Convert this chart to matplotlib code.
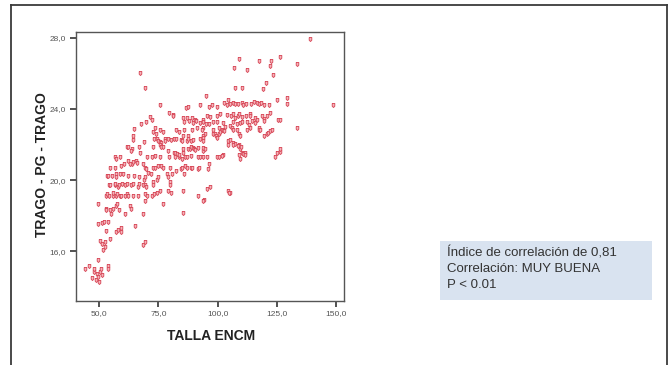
import matplotlib
matplotlib.use("Agg")
import matplotlib.pyplot as plt
from matplotlib.lines import Line2D
from matplotlib.patches import Rectangle
from matplotlib.ticker import FuncFormatter

plt.rcParams['font.family'] = ['Liberation Sans', 'DejaVu Sans']

# Talla (cm) and trago-PG-trago distance, one pair per subject
talla = [
    67.3, 69.5, 139.1, 109.2, 107.1, 112.3, 117.3, 122.4, 122.2, 126.3, 133.5, 123.3, 120.3, 119.1, 107.4, 110.3,
    148.9, 125.0, 129.2, 129.2, 95.3, 104.6,
    75.5, 86.5, 87.6, 92.5, 96.4, 97.5, 99.7, 102.8, 103.9, 105.3, 106.7, 107.4, 108.8, 110.3, 110.9, 112.2,
    114.2, 115.2, 116.6, 117.5, 119.4, 121.9, 118.5,
    79.5, 81.3, 71.5, 72.1, 85.6, 87.2, 89.1, 90.5, 94.0, 95.5, 96.7, 99.7, 101.1, 103.9, 105.7, 106.7, 107.4,
    108.5, 109.2, 110.3, 111.9, 113.5, 113.8, 115.9, 116.6, 118.7, 119.4, 120.8, 122.2, 125.7, 126.4, 81.1,
    67.7, 69.9, 64.5, 86.0, 88.1, 89.6, 90.9, 92.7, 93.8, 95.2, 96.2, 98.2, 99.7, 102.5, 103.2, 105.3, 106.7,
    108.1, 109.5, 110.3, 112.3, 113.4, 114.4, 115.9, 117.3, 119.4, 133.5, 94.0, 73.6, 91.2, 100.4,
    64.2, 72.8, 74.1, 75.5, 77.1, 82.5, 83.9, 86.0, 85.6, 87.7, 89.1, 93.3, 94.7, 94.0, 98.0, 98.2, 99.0, 99.4,
    100.4, 101.1, 101.8, 102.5, 102.8, 106.0, 106.7, 108.1, 109.2, 109.5, 112.3, 113.8, 117.3, 118.0, 119.4,
    120.8, 121.5, 122.2, 123.0,
    64.1, 69.1, 73.3, 74.3, 74.8, 75.8, 76.2, 77.6, 77.9, 79.0, 80.4, 81.4, 82.5, 84.6, 84.9, 87.0, 87.4, 88.8,
    89.6, 92.7, 94.0, 94.0, 104.6, 105.3, 106.7, 107.4, 109.2, 99.7,
    61.7, 63.8, 62.1, 63.5, 67.0, 67.3, 72.7, 75.5, 76.2, 76.9, 79.0, 81.4, 82.1, 82.8, 85.3, 85.6, 87.4, 88.4,
    88.8, 89.6, 90.2, 90.5, 91.9, 93.8, 94.0, 94.7, 102.5, 104.6, 106.7, 108.8, 109.5, 109.8, 110.3, 110.9,
    111.6, 111.6, 126.4, 126.4, 125.0,
    56.8, 57.2, 58.9, 62.1, 63.8, 64.2, 65.6, 65.9, 68.4, 70.1, 72.2, 73.6, 75.5, 79.3, 82.1, 83.5, 83.9, 84.9,
    86.3, 87.0, 88.8, 91.9, 92.7, 94.0, 95.5, 96.2, 99.7, 100.4, 101.8, 109.2, 109.5, 124.3, 60.6, 62.8,
    54.6, 56.8, 59.1, 69.4, 69.9, 72.7, 73.6, 75.0, 76.2, 77.1, 79.7, 82.5, 84.6, 84.9, 86.3, 87.0, 88.8, 89.1,
    91.6, 92.3, 95.9, 70.8,
    53.2, 53.6, 55.3, 57.2, 57.2, 58.9, 60.0, 62.1, 64.9, 67.0, 69.1, 69.4, 72.0, 74.3, 74.8, 78.6, 79.0, 80.7,
    85.9, 72.9, 79.7,
    54.3, 54.6, 56.5, 56.8, 57.9, 58.2, 59.6, 60.7, 61.7, 63.5, 64.2, 66.4, 66.6, 68.4, 69.4, 69.9, 72.7, 75.5,
    79.0, 79.7, 85.6, 95.5, 96.6, 104.6,
    53.0, 53.2, 54.3, 55.8, 56.0, 57.2, 57.4, 58.9, 59.3, 61.0, 61.7, 62.1, 64.2, 66.4, 69.5, 70.1, 72.2, 73.1,
    74.3, 80.4, 91.6, 94.2, 105.3, 104.7, 69.4,
    49.7, 52.7, 53.0, 54.4, 55.1, 55.8, 56.9, 57.4, 58.3, 61.1, 62.8, 63.5, 68.4, 77.1, 85.3, 94.0,
    49.7, 51.3, 52.2, 53.6, 53.0, 57.2, 57.9, 59.3, 59.3, 65.3,
    50.4, 51.1, 52.5, 54.7, 51.6, 52.5, 68.4, 69.4,
    49.4, 43.8, 45.6, 47.6, 49.0, 50.4, 46.9, 48.7, 49.7, 53.6, 53.6, 50.8, 51.1, 48.0, 49.8,
]
trago = [
    26.0, 25.2, 27.9, 26.8, 26.3, 26.2, 26.7, 26.7, 26.4, 26.9, 26.5, 25.9, 25.45, 25.1, 25.2, 25.2,
    24.2, 24.5, 24.6, 24.25, 24.7, 24.5,
    24.2, 24.05, 24.1, 24.2, 24.1, 24.2, 24.1, 24.35, 24.2, 24.3, 24.35, 24.3, 24.3, 24.35, 24.2, 24.3,
    24.3, 24.4, 24.35, 24.3, 24.2, 24.2, 24.35,
    23.75, 23.65, 23.55, 23.35, 23.5, 23.5, 23.5, 23.4, 23.35, 23.6, 23.55, 23.6, 23.7, 23.65, 23.6, 23.7, 23.5,
    23.6, 23.7, 23.55, 23.6, 23.7, 23.6, 23.5, 23.35, 23.6, 23.45, 23.6, 23.75, 23.35, 23.4, 23.6,
    23.15, 23.25, 22.85, 23.25, 23.3, 23.2, 23.3, 23.2, 23.25, 23.15, 23.15, 23.25, 23.25, 23.2, 23.0, 23.05, 23.25,
    23.15, 23.2, 23.25, 23.25, 23.1, 23.3, 23.2, 22.95, 23.3, 22.95, 22.95, 22.9, 22.9, 22.9,
    22.5, 22.7, 22.6, 22.8, 22.7, 22.8, 22.7, 22.8, 22.5, 22.5, 22.8, 22.8, 22.6, 22.5, 22.6, 22.8, 22.6, 22.45,
    22.6, 22.7, 22.8, 22.8, 22.75, 22.9, 22.8, 22.8, 22.6, 22.45, 22.8, 22.9, 22.8, 22.8, 22.5,
    22.6, 22.65, 22.75, 22.8,
    22.25, 22.15, 22.3, 22.3, 22.2, 22.15, 22.1, 22.3, 22.2, 22.3, 22.25, 22.3, 22.3, 22.25, 22.2, 22.2, 22.3, 22.2,
    22.25, 22.3, 22.35, 22.2, 22.2, 22.25, 22.1, 22.05, 22.0, 22.35,
    21.85, 21.75, 21.85, 21.65, 21.85, 21.55, 21.85, 22.0, 21.85, 21.85, 21.65, 21.55, 21.5, 21.45, 21.5, 21.75, 21.75, 21.75,
    21.85, 21.8, 21.75, 21.7, 21.8, 21.65, 21.8, 21.75, 21.4, 21.95, 22.0, 21.9, 21.75, 21.85, 21.55, 21.45,
    21.5, 21.4, 21.6, 21.75, 21.5,
    21.3, 21.2, 21.3, 21.1, 20.9, 21.0, 21.1, 20.95, 20.9, 21.3, 21.3, 21.35, 21.3, 21.3, 21.3, 21.3, 21.4, 21.2,
    21.3, 21.3, 21.35, 21.3, 21.3, 21.3, 21.3, 20.9, 21.3, 21.3, 21.35, 21.4, 21.2, 21.3, 20.9, 20.9,
    20.7, 20.7, 20.8, 20.7, 20.6, 20.7, 20.7, 20.8, 20.8, 20.7, 20.7, 20.5, 20.6, 20.7, 20.8, 20.7, 20.7, 20.7,
    20.6, 20.7, 20.6, 20.4,
    20.25, 20.25, 20.25, 20.35, 20.15, 20.35, 20.35, 20.25, 20.25, 20.15, 20.0, 20.15, 20.35, 20.0, 20.15, 20.35, 20.15, 20.35,
    20.35, 19.9, 19.9,
    19.7, 19.7, 19.7, 19.8, 19.6, 19.7, 19.8, 19.7, 19.8, 19.7, 19.8, 19.6, 19.8, 19.75, 19.7, 19.6, 19.7, 19.4,
    19.4, 19.7, 19.4, 19.5, 19.6, 19.4,
    19.1, 19.2, 19.1, 19.1, 19.25, 19.1, 19.2, 19.1, 19.1, 19.1, 19.2, 19.1, 19.1, 19.1, 19.2, 19.1, 19.1, 19.2,
    19.3, 19.3, 19.1, 18.9, 19.25, 19.3, 18.85,
    18.65, 18.4, 18.3, 18.3, 18.1, 18.4, 18.55, 18.65, 18.3, 18.1, 18.55, 18.4, 18.1, 18.65, 18.15, 18.85,
    17.55, 17.6, 17.65, 17.65, 17.15, 17.1, 17.2, 17.3, 17.1, 17.45,
    16.6, 16.4, 16.5, 16.7, 16.05, 16.25, 16.35, 16.5,
    15.5, 15.0, 15.2, 14.85, 14.75, 14.85, 14.5, 14.4, 14.55, 15.2, 15.0, 15.0, 14.7, 15.0, 14.3,
]

x_ticks = [50.0, 75.0, 100.0, 125.0, 150.0]
y_ticks = [16.0, 20.0, 24.0, 28.0]
stats_lines = ["Índice de correlación de 0,81", "Correlación: MUY BUENA", "P < 0.01"]

fig = plt.figure(figsize=(6.7, 3.65), dpi=100)
fig.patch.set_facecolor('white')

# outer frame (left, top, right edges)
W, H = 670.0, 365.0
frame_kw = dict(color='#3a3a3a', linewidth=1.3, transform=fig.transFigure)
fig.add_artist(Line2D([10.5 / W, 10.5 / W], [0, 1 - 4.5 / H], **frame_kw))
fig.add_artist(Line2D([10.5 / W, 666.5 / W], [1 - 4.5 / H, 1 - 4.5 / H], **frame_kw))
fig.add_artist(Line2D([666.5 / W, 666.5 / W], [0, 1 - 4.5 / H], **frame_kw))

# small cup-shaped glyph used for every point
cup = [(-0.35, 0.55), (-0.35, -0.2), (0.0, -0.55), (0.35, -0.2), (0.35, 0.55), (-0.35, 0.55)]

ax = fig.add_axes([76 / W, 1 - 300.7 / H, 268 / W, 268.4 / H])
ax.scatter(talla, trago, s=8.5, marker=cup,
           facecolor='#f6b4ba', edgecolor='#d84a5a', linewidths=0.65, zorder=3)

ax.set_xlim(40.2, 153.4)
ax.set_ylim(13.23, 28.3)
ax.set_xticks(x_ticks)
ax.set_yticks(y_ticks)
fmt = FuncFormatter(lambda v, p: f"{v:.1f}".replace('.', ','))
ax.xaxis.set_major_formatter(fmt)
ax.yaxis.set_major_formatter(fmt)
ax.tick_params(direction='out', length=4, width=1.2, color='#333333',
               labelsize=6, labelcolor='#555555', pad=3)
for s in ax.spines.values():
    s.set_color('#555555')
    s.set_linewidth(1.0)

fig.text(42 / W, 1 - 165 / H, "TRAGO - PG - TRAGO", rotation=90, ha='center', va='center',
         fontsize=10, fontweight='bold', color='#222222')
fig.text(211 / W, 1 - 336 / H, "TALLA ENCM", ha='center', va='center',
         fontsize=10, fontweight='bold', color='#222222')

# statistics box
fig.add_artist(Rectangle((440 / W, 1 - 300 / H), 212 / W, 59 / H, transform=fig.transFigure,
                         facecolor='#d9e3f0', edgecolor='none'))
for i, line in enumerate(stats_lines):
    fig.text(447 / W, 1 - (253 + i * 16) / H, line, ha='left', va='center',
             fontsize=9.5, color='#333333')

fig.savefig("out.png", dpi=100)
